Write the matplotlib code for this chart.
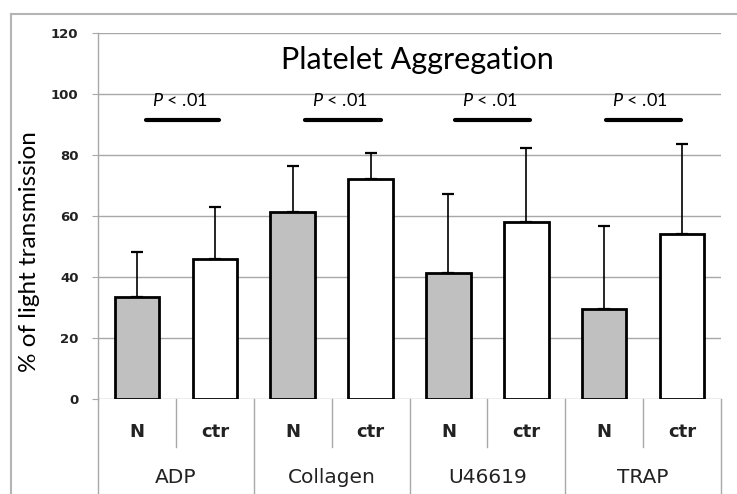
import numpy as np
import matplotlib
matplotlib.use('Agg')
import matplotlib.pyplot as plt
import matplotlib.transforms as mtransforms
from matplotlib.lines import Line2D

plt.rcParams['mathtext.fontset'] = 'custom'
plt.rcParams['mathtext.rm'] = 'Lato'
plt.rcParams['mathtext.it'] = 'Lato:italic'

# data
agonists = ['ADP', 'Collagen', 'U46619', 'TRAP']
groups = ['N', 'ctr']
n_means = [33.3, 61.4, 41.4, 29.4]
n_sd = [14.9, 14.9, 25.8, 27.4]
ctr_means = [45.8, 72.1, 57.9, 54.0]
ctr_sd = [17.0, 8.5, 24.5, 29.6]
sig_label = r'$P$ < .01'
sig_start = [0.12, 2.16, 4.09, 6.02]
sig_end = [1.05, 3.13, 5.05, 6.98]
sig_level = 91.5
yticks = [0, 20, 40, 60, 80, 100, 120]

W, H = 737, 494
fig = plt.figure(figsize=(W / 100, H / 100), dpi=100)
fig.patch.set_facecolor('white')
ax = fig.add_axes([98 / W, 1 - 399 / H, (721 - 98) / W, (399 - 33) / H])

means = []
sds = []
for a in range(len(agonists)):
    means += [n_means[a], ctr_means[a]]
    sds += [n_sd[a], ctr_sd[a]]
x = np.arange(len(means))
colors = ['#c0c0c0', 'white'] * len(agonists)

ax.bar(x, means, width=0.57, color=colors, edgecolor='black', linewidth=2, zorder=3)
ax.errorbar(x, means, yerr=[np.zeros(len(sds)), sds], fmt='none', ecolor='black',
            elinewidth=1.2, capsize=4, capthick=1.6, zorder=2)

ax.set_xlim(-0.5, len(means) - 0.5)
ax.set_ylim(0, 120)
ax.set_yticks(yticks)
ax.set_xticks([])
ax.grid(axis='y', color='#a8a8a8', linewidth=1, zorder=0)
ax.set_axisbelow(True)
for s in ['top', 'right', 'bottom']:
    ax.spines[s].set_visible(False)
ax.spines['left'].set_color('#a8a8a8')
ax.spines['left'].set_linewidth(1)
ax.tick_params(axis='y', length=4, color='#a8a8a8', pad=10, labelsize=9.5, labelcolor='#222222')
for lab in ax.get_yticklabels():
    lab.set_fontweight('bold')

# significance bars
for s0, s1 in zip(sig_start, sig_end):
    ax.plot([s0, s1], [sig_level, sig_level], color='black', linewidth=3,
            solid_capstyle='round', zorder=4)
    ax.text((s0 + s1) / 2 - 0.04, 98, sig_label, fontsize=13, family='Lato',
            ha='center', va='center')

ax.text(3.6, 111, 'Platelet Aggregation', fontsize=22, family='Lato', ha='center', va='center')

# category table below the axis
trans = mtransforms.blended_transform_factory(ax.transData, ax.transAxes)
for i in range(len(means) + 1):
    bottom = -0.26 if i % 2 == 0 else -0.131
    ax.add_line(Line2D([i - 0.5, i - 0.5], [0, bottom], transform=trans, color='#a8a8a8',
                       linewidth=1, clip_on=False))
for i, xi in enumerate(x):
    ax.text(xi, -0.09, groups[i % 2], transform=trans, ha='center', va='center',
            fontsize=13, fontweight='bold', color='#222222')
for a, name in enumerate(agonists):
    ax.text(2 * a + 0.5, -0.215, name, transform=trans, ha='center', va='center',
            fontsize=14.5, color='#222222')

fig.text(30 / W, 1 - 252 / H, '% of light transmission', rotation=90, ha='center', va='center',
         fontsize=17.5, family='Lato')

# outer frame
fig.add_artist(Line2D([11 / W, 11 / W], [0, 1 - 14 / H], color='#b4b4b4', linewidth=1.5))
fig.add_artist(Line2D([11 / W, 1], [1 - 14 / H, 1 - 14 / H], color='#b4b4b4', linewidth=1.5))

fig.savefig('out.png', dpi=100, facecolor='white')
